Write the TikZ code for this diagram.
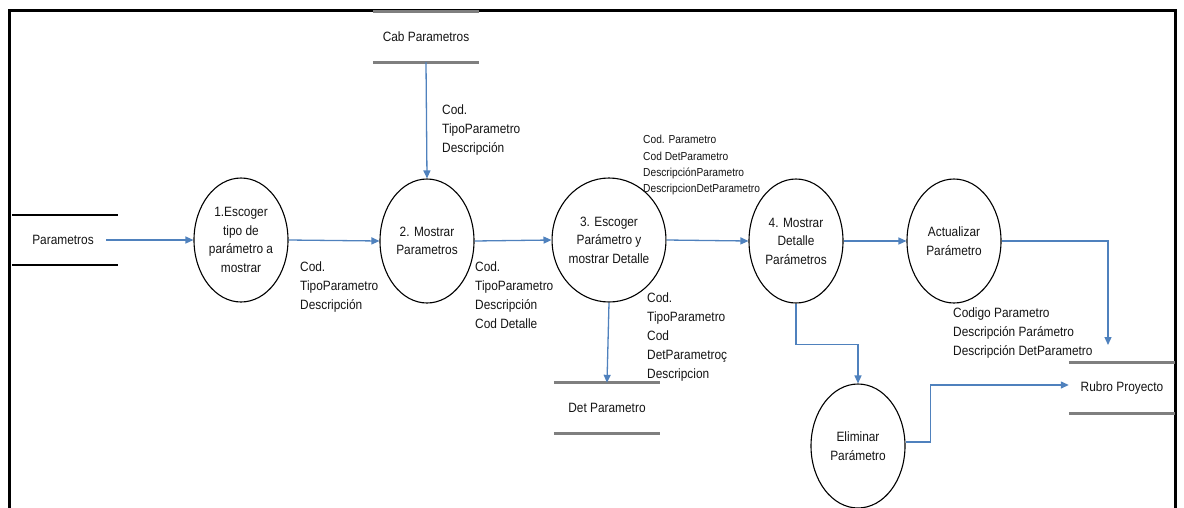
\documentclass[tikz,border=0pt]{standalone}
\usepackage{fontspec}
\setmainfont{Liberation Sans}[FakeStretch=0.88]
\usetikzlibrary{arrows.meta,shapes.geometric}

\definecolor{flowblue}{HTML}{4F81BD}
\definecolor{storegrey}{HTML}{7F7F7F}
\definecolor{ink}{HTML}{141414}

\begin{document}
\begin{tikzpicture}[x=1pt,y=-1pt,
  every node/.style={text=ink},
  proc/.style={ellipse,draw=black,line width=1.1pt,minimum width=94,minimum height=124,
    inner sep=0pt,align=center,font=\fontsize{13.5}{18.5}\selectfont},
  store/.style={minimum width=106,minimum height=50,inner sep=0pt,
    font=\fontsize{13.5}{16}\selectfont},
  storeline/.style={draw=storegrey,line width=3pt},
  flow/.style={draw=flowblue,line width=1.3pt,-{Triangle[length=8pt,width=7pt]}},
  lbl/.style={anchor=north west,inner sep=0pt,align=left,font=\fontsize{13.5}{19}\selectfont},
  lblsmall/.style={anchor=north west,inner sep=0pt,align=left,font=\fontsize{11.6}{16.4}\selectfont}]

\useasboundingbox (0,0) rectangle (1184,507);

% outer frame, open below the page edge
\draw[line width=3pt,black] (9,520) -- (9,10) -- (1175,10) -- (1175,520);

% data stores
\node[store] (ps) at (65,240) {\hspace*{-4pt}Parametros};
\draw[black,line width=1.6pt] (ps.north west) -- (ps.north east) (ps.south west) -- (ps.south east);

\node[store] (cab) at (426,37) {Cab Parametros};
\draw[storeline] (cab.north west) -- (cab.north east) (cab.south west) -- (cab.south east);

\node[store] (det) at (607,408) {Det Parametro};
\draw[storeline] (det.north west) -- (det.north east) (det.south west) -- (det.south east);

\node[store] (rubro) at (1122,388) {Rubro Proyecto};
\draw[storeline] (rubro.north west) -- (rubro.north east) (rubro.south west) -- (rubro.south east);

% processes
\node[proc] (p1) at (241,240) {1.Escoger\\tipo de\\parámetro a\\mostrar};
\node[proc] (p2) at (427,241) {2. Mostrar\\Parametros};
\node[proc] (p3) at (609,240) {3. Escoger\\Parámetro y\\mostrar Detalle};
\node[proc] (p4) at (796,241) {4. Mostrar\\Detalle\\Parámetros};
\node[proc] (act) at (954,241) {Actualizar\\Parámetro};
\node[proc] (elim) at (858,446) {Eliminar\\Parámetro};

% data flows
\draw[flow] ([xshift=-12pt]ps.east) -- (p1.west);
\draw[flow] (p1.east) -- (p2.west);
\draw[flow] (cab.south) -- (p2.north);
\draw[flow] (p2.east) -- (p3.west);
\draw[flow] (p3.east) -- (p4.west);
\draw[flow] (p3.south) -- (det.north);
\draw[flow] (p4.east) -- (act.west);
\coordinate (rubroin) at (1108,345);
\draw[flow] (act.east) -| (rubroin);
\draw[flow] (p4.south) -- ++(0,41) -| (elim.north);
\draw[flow] ([yshift=4pt]elim.east) -- ++(25,0) |- ([yshift=3pt]rubro.west);

% flow labels
\node[lbl] (l1) at (442,105) {Cod.\\TipoParametro\\Descripción};
\node[lblsmall] (l2) at (643,135) {Cod. Parametro\\Cod DetParametro\\DescripciónParametro\\DescripcionDetParametro};
\node[lbl] (l3) at (300,262) {Cod.\\TipoParametro\\Descripción};
\node[lbl] (l4) at (475,262) {Cod.\\TipoParametro\\Descripción\\Cod Detalle};
\node[lbl] (l5) at (647,293) {Cod.\\TipoParametro\\Cod\\DetParametroç\\Descripcion};
\node[lbl] (l6) at (953,308) {Codigo Parametro\\Descripción Parámetro\\Descripción DetParametro};

\end{tikzpicture}
\end{document}
